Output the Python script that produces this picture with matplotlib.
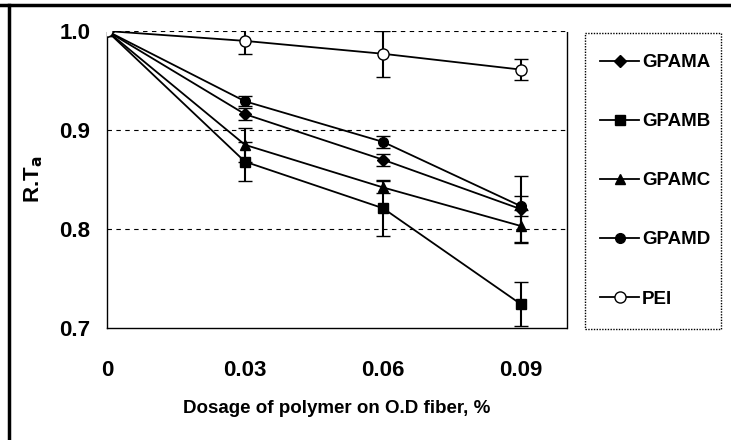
import matplotlib
matplotlib.use("Agg")
import matplotlib.pyplot as plt
from matplotlib.lines import Line2D
from matplotlib.patches import Rectangle

dosage = [0, 0.03, 0.06, 0.09]
xtick_labels = ["0", "0.03", "0.06", "0.09"]
yticks = [0.7, 0.8, 0.9, 1.0]
ytick_labels = ["0.7", "0.8", "0.9", "1.0"]

gpama = [1.0, 0.916, 0.870, 0.820]
gpama_err = [0, 0.006, 0.006, 0.034]
gpamb = [1.0, 0.868, 0.821, 0.724]
gpamb_err = [0, 0.020, 0.028, 0.022]
gpamc = [1.0, 0.885, 0.842, 0.803]
gpamc_err = [0, 0.017, 0.006, 0.016]
gpamd = [1.0, 0.929, 0.888, 0.823]
gpamd_err = [0, 0.005, 0.006, 0.010]
pei = [1.0, 0.990, 0.977, 0.961]
pei_err = [0, 0.013, 0.023, 0.011]

names = ["GPAMA", "GPAMB", "GPAMC", "GPAMD", "PEI"]

FONT = ["Liberation Sans Narrow", "Liberation Sans", "DejaVu Sans"]
plt.rcParams["font.family"] = FONT
plt.rcParams["font.weight"] = "bold"

fig = plt.figure(figsize=(7.31, 4.40), dpi=100)
ax = fig.add_axes([107/731, 1-328/440, (567-107)/731, (328-31)/440])

series = [
    (gpama, gpama_err, "D", "black", 6),
    (gpamb, gpamb_err, "s", "black", 6.5),
    (gpamc, gpamc_err, "^", "black", 7),
    (gpamd, gpamd_err, "o", "black", 7),
    (pei, pei_err, "o", "white", 8),
]
handles = []
for (vals, errs, mk, fc, ms), name in zip(series, names):
    ax.errorbar(dosage, vals, yerr=errs, color="black", lw=1.3, marker=mk,
                markersize=ms, markerfacecolor=fc, markeredgecolor="black",
                markeredgewidth=1.0, capsize=5, capthick=1.5, elinewidth=1.5,
                zorder=3)
    handles.append(Line2D([], [], color="black", lw=1.3, marker=mk, markersize=ms,
                          markerfacecolor=fc, markeredgecolor="black",
                          markeredgewidth=1.0, label=name))

ax.set_xlim(0, 0.1)
ax.set_ylim(0.7, 1.0)
ax.set_xticks(dosage)
ax.set_xticklabels(xtick_labels)
ax.set_yticks(yticks)
ax.set_yticklabels(ytick_labels)
ax.tick_params(axis="both", length=0, labelsize=16)
ax.tick_params(axis="x", pad=23)
ax.tick_params(axis="y", pad=12)
for lab in ax.get_xticklabels() + ax.get_yticklabels():
    lab.set_fontweight("bold")

for y in [0.8, 0.9, 1.0]:
    ax.axhline(y, color="black", lw=0.8, ls=(0, (4, 4)), zorder=1)
for side in ["left", "right", "bottom"]:
    ax.spines[side].set_linestyle((0, (1, 1)))
    ax.spines[side].set_linewidth(1.0)
ax.spines["top"].set_visible(False)

ax.set_xlabel("Dosage of polymer on O.D fiber, %", fontsize=13.5, fontweight="bold", labelpad=14)
ax.set_ylabel("R.T$_\\mathbf{a}$", fontsize=16, fontweight="bold", labelpad=10)

leg = fig.legend(handles=handles, loc="upper left", bbox_to_anchor=(600/731, 1-54/440),
                 frameon=False,
                 prop={"family": FONT, "weight": "bold", "size": 13.5},
                 labelspacing=2.24, handlelength=2.1, handletextpad=0.15,
                 borderpad=0, borderaxespad=0)

fig.add_artist(Rectangle((585/731, 1-329/440), (721-585)/731, (329-33)/440,
                         transform=fig.transFigure, fill=False, lw=1.0,
                         edgecolor="black", linestyle=(0, (1, 1))))

fig.add_artist(Line2D([0, 1], [1-5/440, 1-5/440], transform=fig.transFigure,
                      color="black", lw=2.5))
fig.add_artist(Line2D([9/731, 9/731], [0, 1-5/440], transform=fig.transFigure,
                      color="black", lw=2.5))

fig.savefig("out.png", dpi=100)
